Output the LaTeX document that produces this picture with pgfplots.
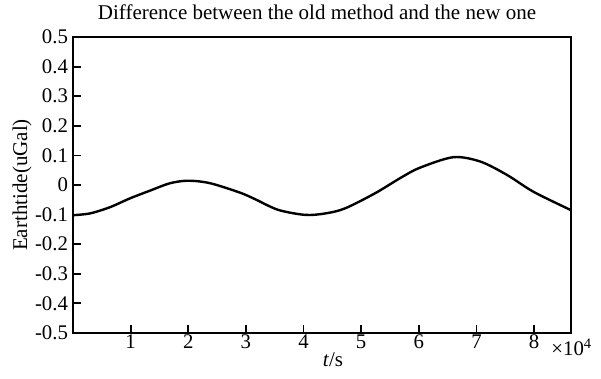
\documentclass[border=0pt]{standalone}
\usepackage{pgfplots}
\pgfplotsset{compat=1.18}
\usepackage{fontspec}
\setmainfont{Liberation Serif}
\begin{document}
\begin{tikzpicture}
\path[use as bounding box] (-36.5pt,-23pt) rectangle (264pt,166.5pt);
\begin{axis}[
  at={(0,0)}, anchor=south west,
  width=249pt, height=148pt, scale only axis,
  xmin=0, xmax=86400, ymin=-0.5, ymax=0.5,
  xtick={10000,20000,30000,40000,50000,60000,70000,80000},
  xticklabels={1,2,3,4,5,6,7,8},
  ytick={-0.5,-0.4,-0.3,-0.2,-0.1,0,0.1,0.2,0.3,0.4,0.5},
  yticklabels={-0.5,-0.4,-0.3,-0.2,-0.1,0,0.1,0.2,0.3,0.4,0.5},
  scaled x ticks=false,
  tick align=inside, xtick pos=bottom, ytick pos=left,
  major tick length=3.8pt,
  axis line style={line width=1.1pt},
  tick style={line width=0.9pt, black},
  tick label style={font=\fontsize{10.4}{12}\selectfont},
  xticklabel style={anchor=north, inner sep=0pt, yshift=-0.8pt},
  yticklabel style={anchor=east, inner sep=0pt, xshift=-2.3pt},
  title={Difference between the old method and the new one},
  title style={at={(axis description cs:0.5,1)}, anchor=base, yshift=2.6pt, xshift=-2.5pt, inner sep=0pt, font=\fontsize{10.5}{12}\selectfont},
  xlabel={\textit{t}/s},
  xlabel style={at={(axis description cs:0.5,0)}, anchor=base, yshift=-16.8pt, xshift=5.5pt, inner sep=0pt, font=\fontsize{10.5}{12}\selectfont},
  ylabel={Earthtide(uGal)},
  ylabel style={at={(axis description cs:-0.1024,0.5)}, anchor=center, rotate=0, inner sep=0pt, font=\fontsize{10.5}{12}\selectfont},
]
\addplot[black, line width=1.2pt, smooth, tension=0.5] coordinates {
(0,-0.102) (2950,-0.096) (6420,-0.075) (9900,-0.045) (13370,-0.019)
(16840,0.006) (20000,0.0145) (23800,0.006) (29000,-0.026) (31600,-0.048)
(35600,-0.084) (40300,-0.101) (43800,-0.096) (47200,-0.079) (52400,-0.028)
(57000,0.026) (60200,0.0585) (66000,0.094) (70700,0.079) (75300,0.034)
(79900,-0.023) (86400,-0.085)
};
\end{axis}
\node[anchor=west, inner sep=0pt, font=\fontsize{10.4}{12}\selectfont] at (239pt,-7pt) {×10\textsuperscript{4}};
\end{tikzpicture}
\end{document}
